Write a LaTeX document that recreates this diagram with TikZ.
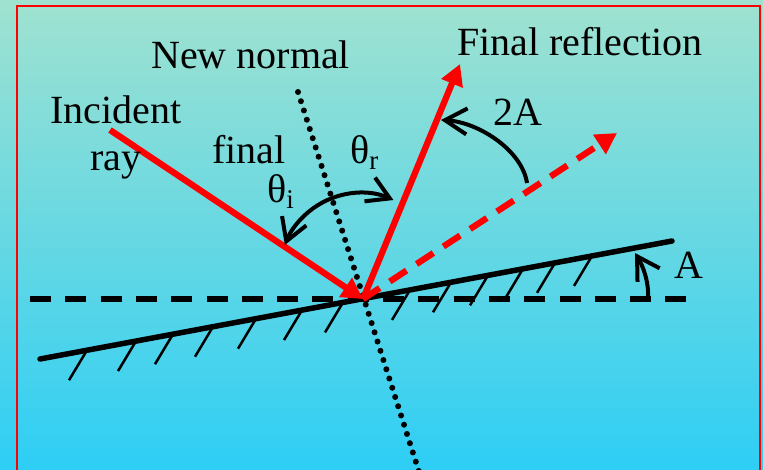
\documentclass[tikz,border=0pt]{standalone}
\usepackage{fontspec}
\setmainfont{Liberation Serif}
\usetikzlibrary{arrows.meta,calc}
\begin{document}
\begin{tikzpicture}[x=1pt,y=-1pt,
  lbl/.style={inner sep=0pt, font=\fontsize{40}{46}\selectfont, anchor=base west},
  redray/.style={draw=red, line width=6.3pt},
  redtip/.style={-{Triangle[length=21pt,width=22pt]}},
  anglemark/.style={line width=4pt},
  hatch/.style={line width=2.5pt},
  barb/.tip={Straight Barb[length=22pt,width=26pt]}
]
\useasboundingbox (0,0) rectangle (763,469);
\clip (0,0) rectangle (763,469);
\shade[top color={rgb,255:red,160;green,226;blue,208}, middle color={rgb,255:red,108;green,214;blue,228}, bottom color={rgb,255:red,46;green,206;blue,245}] (0,0) rectangle (763,469);
\draw[red, line width=1.8pt] (17,6) rectangle (760,490);

% coordinates
\coordinate (P) at (363,299);
\coordinate (incS) at (110,130);
\coordinate (refE) at (460,64);
\coordinate (dashE) at (617,133);
\coordinate (nTop) at (298,92);
\coordinate (nBot) at (421,478);
\coordinate (mirL) at (40,359);
\coordinate (mirR) at (672,241);
\coordinate (hzL) at (30,299);
\coordinate (hzR) at (686,299);

% horizontal dashed line
\draw[line width=5.5pt, dash pattern=on 21pt off 14.3pt] (hzL) -- (hzR);
% mirror
\draw[line width=5.5pt, line cap=round] (mirL) -- (mirR);
\foreach \x in {87,136,173,213,256,302,343,410,451,488,523,555,592}
  \draw[hatch] (\x,{359-(\x-40)*0.1867}) -- ++(-18,30);
% normal
\draw[line width=6pt, line cap=round, dash pattern=on 0pt off 9.7pt] (nTop) -- (nBot);

% red rays
\draw[redray, redtip] (incS) -- (P);
\draw[redray, redtip] (P) -- (refE);
\draw[redray, redtip, dash pattern=on 20pt off 12pt] (P) -- (dashE);

% angle marks
\coordinate (tc) at (360.5,274);
\draw[anglemark, barb-barb] ($(tc)+(-66:81)$) arc[start angle=-66, end angle=-159, radius=81];
\coordinate (a2s) at (527,183);
\coordinate (a2e) at (441,120);
\draw[anglemark, -barb] (a2s) .. controls (522,150) and (478,122) .. (a2e);
\coordinate (a1s) at (648,298);
\coordinate (a1e) at (635,253);
\draw[anglemark, -barb] (a1s) .. controls (649,282) and (643,266) .. (a1e);

% labels
\node[lbl] (newnormal) at (151,68) {New normal};
\node[lbl] (finalrefl) at (457,55) {Final reflection};
\node[lbl] (incident) at (50,123) {Incident};
\node[lbl] (ray) at (90,170) {ray};
\node[lbl] (final) at (212,163) {final};
\node[lbl] (thetai) at (267,202) {θ\raisebox{-6pt}{\fontsize{27}{27}\selectfont i}};
\node[lbl] (thetar) at (350,163) {θ\raisebox{-6pt}{\fontsize{27}{27}\selectfont r}};
\node[lbl] (twoA) at (493,125) {2A};
\node[lbl] (A) at (674,278) {A};
\end{tikzpicture}
\end{document}
